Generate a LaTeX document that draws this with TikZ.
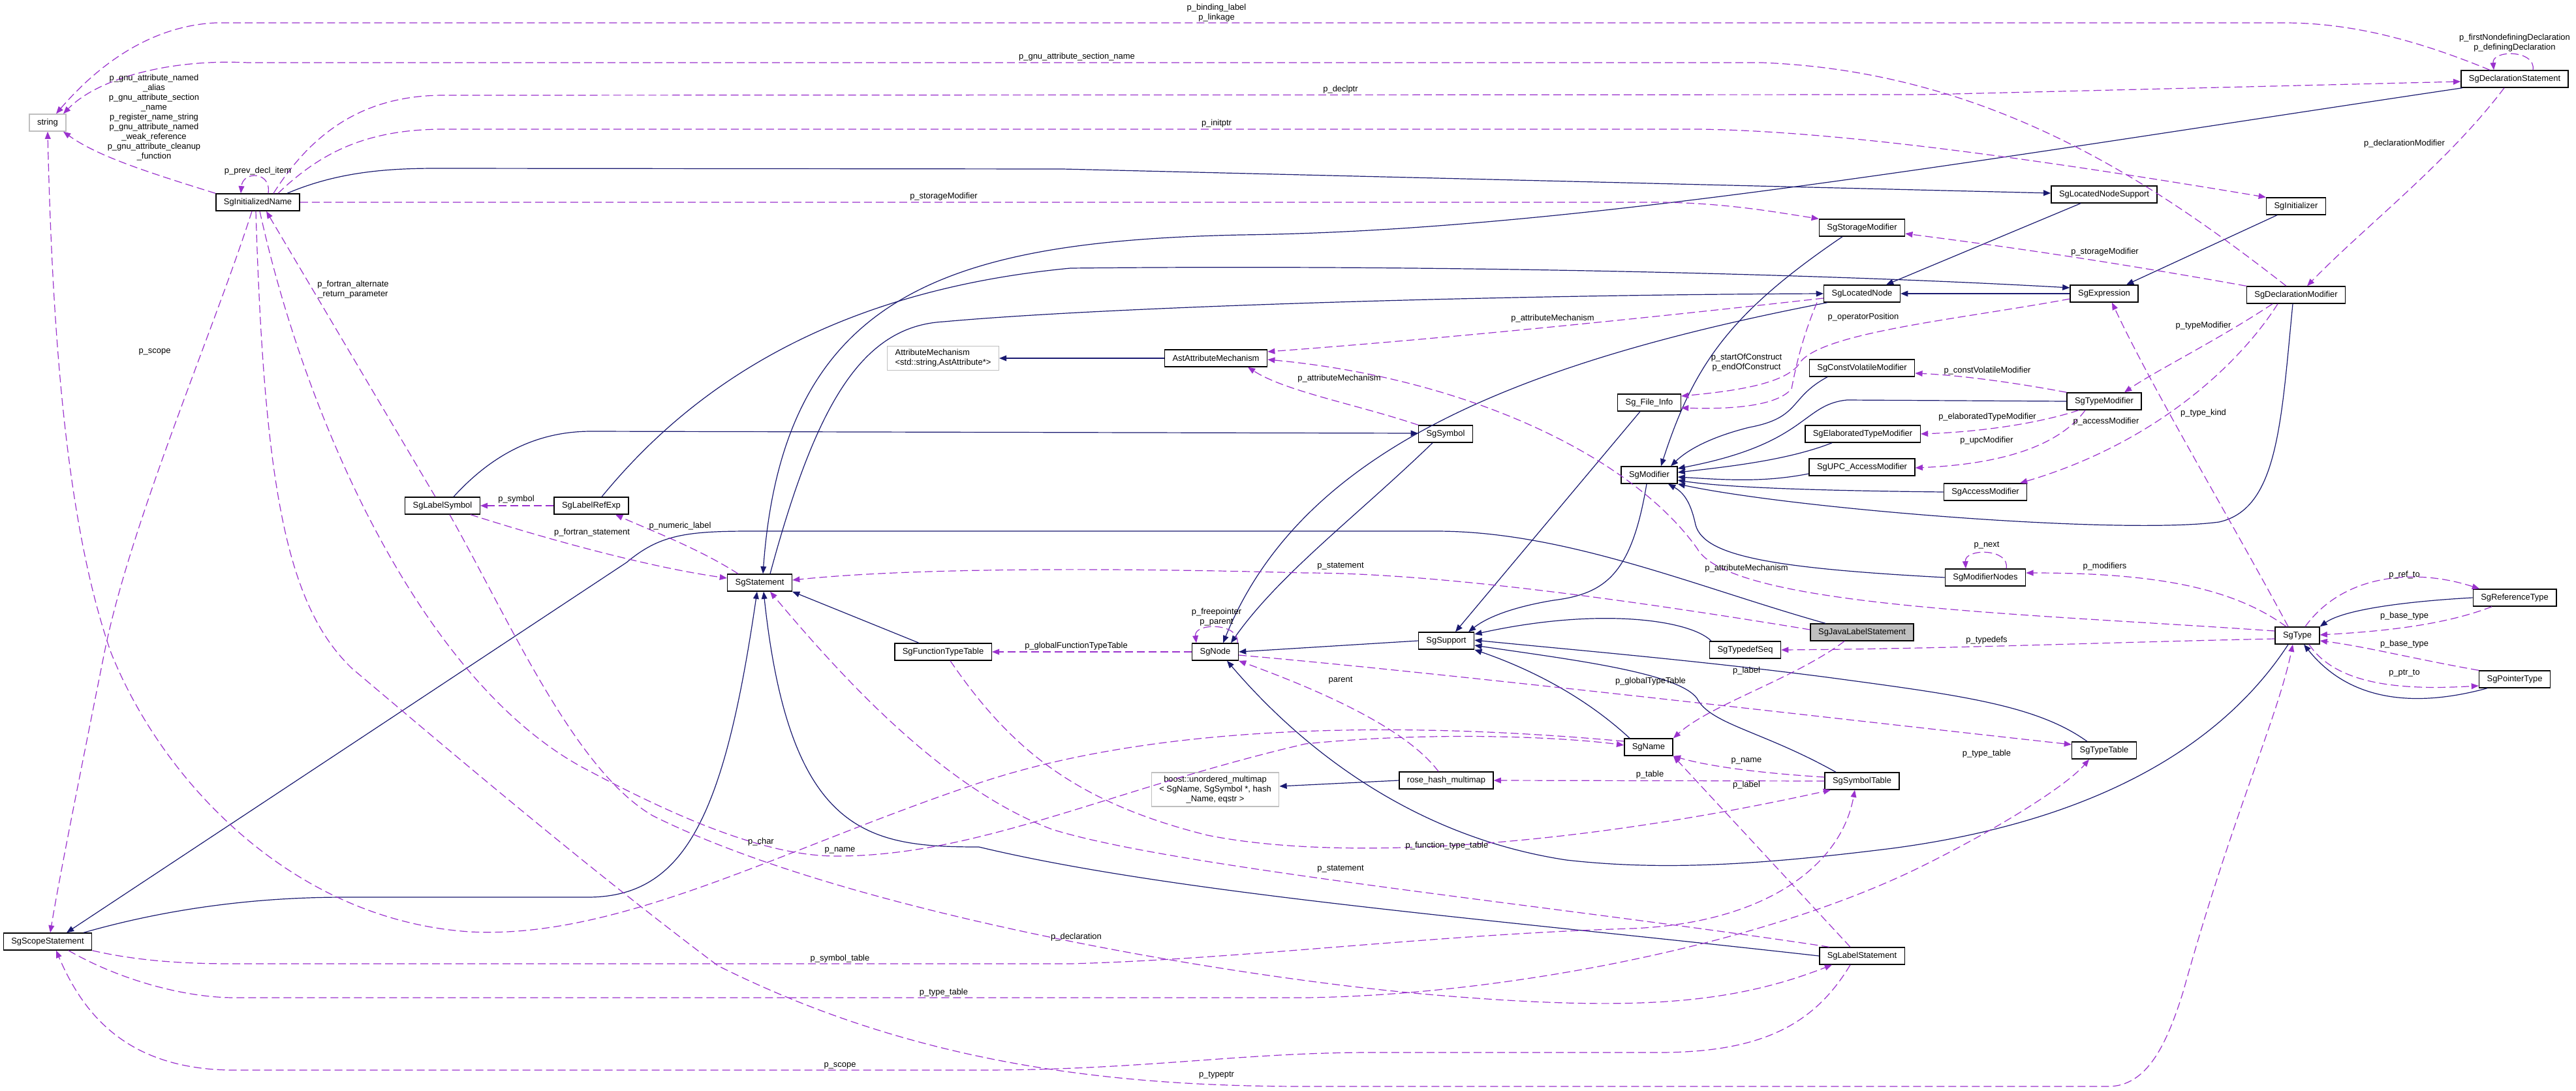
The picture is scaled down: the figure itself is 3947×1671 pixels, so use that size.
\documentclass[tikz,border=0pt]{standalone}
\usepackage{fontspec}
\setmainfont{Liberation Sans}
\usetikzlibrary{arrows.meta}
\definecolor{navyline}{HTML}{191970}
\definecolor{orchidline}{HTML}{9A32CD}
\definecolor{greyedge}{HTML}{BFBFBF}

\begin{document}
\begin{tikzpicture}[x=0.25mm, y=-0.25mm,
    cls/.style={draw=black, line width=0.35mm, fill=white, inner xsep=3mm, inner ysep=1.2mm, minimum height=6.5mm, font=\fontsize{9.2}{10.7}\selectfont},
    extcls/.style={cls, draw=greyedge},
    rootcls/.style={cls, fill=greyedge},
    lbl/.style={inner sep=0pt, align=center, font=\fontsize{9.2}{10.7}\selectfont},
    inherit/.style={draw=navyline, line width=0.3mm, -{Triangle[length=2.8mm,width=2.2mm]}},
    member/.style={draw=orchidline, line width=0.3mm, dash pattern=on 3mm off 1.5mm, -{Triangle[length=2.8mm,width=2.2mm]}}]
    \path[use as bounding box, fill=white] (0,0) rectangle (3947,1671);

    % --- CLASS BOXES ---
    \node[extcls] (str) at (73,188) {string};
    \node[cls] (ini) at (395,310) {SgInitializedName};
    \node[cls] (decl) at (3853,121) {SgDeclarationStatement};
    \node[cls] (lns) at (3224,298) {SgLocatedNodeSupport};
    \node[cls] (init) at (3518,316) {SgInitializer};
    \node[cls] (expr) at (3224,450) {SgExpression};
    \node[cls] (dmod) at (3518,452) {SgDeclarationModifier};
    \node[cls] (smod) at (2853,349) {SgStorageModifier};
    \node[cls] (lnode) at (2853,450) {SgLocatedNode};
    \node[extcls, align=left] (am) at (1445,549) {AttributeMechanism\\<std::string,AstAttribute*>};
    \node[cls] (aam) at (1863,549) {AstAttributeMechanism};
    \node[cls] (cvm) at (2853,564) {SgConstVolatileModifier};
    \node[cls] (finfo) at (2527,617) {Sg\_File\_Info};
    \node[cls] (tmod) at (3224,615) {SgTypeModifier};
    \node[cls] (sym) at (2215,665) {SgSymbol};
    \node[cls] (etm) at (2854,665) {SgElaboratedTypeModifier};
    \node[cls] (mod) at (2527,728) {SgModifier};
    \node[cls] (upc) at (2853,716) {SgUPC\_AccessModifier};
    \node[cls] (amod) at (3042,754) {SgAccessModifier};
    \node[cls] (lsym) at (678,775) {SgLabelSymbol};
    \node[cls] (lref) at (906,775) {SgLabelRefExp};
    \node[cls] (mnodes) at (3042,885) {SgModifierNodes};
    \node[cls] (stmt) at (1164,893) {SgStatement};
    \node[cls] (sgnode) at (1862,999) {SgNode};
    \node[cls] (ftt) at (1445,999) {SgFunctionTypeTable};
    \node[cls] (supp) at (2216,982) {SgSupport};
    \node[rootcls] (jls) at (2853,969) {SgJavaLabelStatement};
    \node[cls] (tds) at (2674,996) {SgTypedefSeq};
    \node[cls] (sgtype) at (3520,974) {SgType};
    \node[cls] (rtype) at (3853,916) {SgReferenceType};
    \node[cls] (ptype) at (3853,1041) {SgPointerType};
    \node[cls] (sgname) at (2526,1145) {SgName};
    \node[cls] (ttab) at (3224,1150) {SgTypeTable};
    \node[extcls, align=center] (boost) at (1862,1210) {boost::unordered\_multimap\\< SgName, SgSymbol *, hash\\\_Name, eqstr >};
    \node[cls] (rose) at (2216,1196) {rose\_hash\_multimap};
    \node[cls] (stab) at (2853,1197) {SgSymbolTable};
    \node[cls] (scope) at (73,1443) {SgScopeStatement};
    \node[cls] (lstmt) at (2853,1465) {SgLabelStatement};

    % --- INHERITANCE (SOLID) ---
    \draw[inherit] (ini.north -| 440,0) .. controls (520,262) and (600,258) .. (670,258) -- (1628,259) -- (lns.west |- 0,296);
    \draw[inherit] (lns.south -| 3188,0) -- (lnode.north -| 2890,0);
    \draw[inherit] (init.south -| 3489,0) -- (expr.north -| 3258,0);
    \draw[inherit] (expr.west) -- (lnode.east);
    \draw[inherit] (decl.south -| 3773,0) .. controls (3000,250) and (2400,354) .. (1900,360) .. controls (1450,370) and (1200,450) .. (stmt.north -| 1169,0);
    \draw[inherit] (stmt.north -| 1180,0) .. controls (1250,620) and (1320,500) .. (1446,493) .. controls (1700,470) and (2300,452) .. (lnode.west);
    \draw[inherit] (lsym.north -| 695,0) .. controls (760,690) and (830,661) .. (906,661) -- (sym.west |- 0,664);
    \draw[inherit] (lref.north -| 922,0) .. controls (1030,630) and (1230,450) .. (1640,411) .. controls (2200,405) and (2800,420) .. (expr.west |- 0,441);
    \draw[inherit] (ftt.north -| 1408,0) -- (stmt.south east);
    \draw[inherit] (scope.north -| 128,0) .. controls (300,1380) and (450,1375) .. (530,1375) -- (900,1375) .. controls (1050,1375) and (1110,1250) .. (stmt.south -| 1160,0);
    \draw[inherit] (lstmt.west) .. controls (2300,1410) and (1800,1370) .. (1500,1298) .. controls (1330,1298) and (1210,1280) .. (stmt.south -| 1170,0);
    \draw[inherit] (jls.north -| 2797,0) .. controls (2600,900) and (2400,814) .. (2200,814) -- (1150,814) .. controls (1050,814) and (1010,820) .. (960,862) -- (scope.north -| 102,0);
    \draw[inherit] (smod.south -| 2823,0) .. controls (2650,480) and (2595,560) .. (mod.north -| 2545,0);
    \draw[inherit] (cvm.south -| 2800,0) .. controls (2740,610) and (2760,640) .. (2680,655) .. controls (2620,670) and (2585,690) .. (mod.north -| 2560,0);
    \draw[inherit] (tmod.west) -- (2830,613) .. controls (2760,620) and (2770,680) .. (mod.east |- 0,718);
    \draw[inherit] (etm.south -| 2807,0) .. controls (2740,705) and (2650,715) .. (mod.east |- 0,724);
    \draw[inherit] (upc.west |- 0,726) .. controls (2700,740) and (2640,735) .. (mod.east |- 0,731);
    \draw[inherit] (amod.west) .. controls (2800,752) and (2650,748) .. (mod.east |- 0,736);
    \draw[inherit] (dmod.south -| 3513,0) .. controls (3495,650) and (3490,780) .. (3400,800) .. controls (3250,820) and (2750,780) .. (mod.south east);
    \draw[inherit] (mnodes.west) .. controls (2700,870) and (2605,850) .. (2597,800) .. controls (2590,770) and (2580,755) .. (mod.south -| 2556,0);
    \draw[inherit] (mod.south -| 2523,0) .. controls (2500,880) and (2460,910) .. (2380,920) .. controls (2320,930) and (2280,945) .. (supp.north -| 2250,0);
    \draw[inherit] (finfo.south -| 2513,0) -- (supp.north -| 2230,0);
    \draw[inherit] (tds.north -| 2622,0) .. controls (2590,950) and (2450,930) .. (supp.east |- 0,972);
    \draw[inherit] (sgname.north -| 2497,0) .. controls (2420,1060) and (2330,1020) .. (supp.south east);
    \draw[inherit] (stab.north -| 2813,0) .. controls (2700,1120) and (2620,1110) .. (2600,1070) .. controls (2570,1030) and (2400,1010) .. (supp.east |- 0,989);
    \draw[inherit] (ttab.north -| 3198,0) .. controls (3120,1080) and (3000,1065) .. (2800,1038) .. controls (2600,1012) and (2400,995) .. (supp.east |- 0,981);
    \draw[inherit] (supp.west) -- (sgnode.east);
    \draw[inherit] (sym.south -| 2195,0) .. controls (2080,790) and (1960,880) .. (sgnode.north -| 1886,0);
    \draw[inherit] (lnode.south -| 2800,0) .. controls (2300,560) and (1990,700) .. (sgnode.north -| 1874,0);
    \draw[inherit] (sgtype.south -| 3506,0) .. controls (3400,1150) and (3200,1260) .. (2900,1300) .. controls (2700,1325) and (2550,1335) .. (2400,1318) .. controls (2150,1280) and (1980,1130) .. (sgnode.south -| 1880,0);
    \draw[inherit] (rose.west) -- (boost.east |- 0,1205);
    \draw[inherit] (aam.west) -- (am.east);
    \draw[inherit] (rtype.west) .. controls (3680,922) and (3590,935) .. (sgtype.north east);
    \draw[inherit] (ptype.south -| 3811,0) .. controls (3700,1085) and (3600,1075) .. (sgtype.south -| 3530,0);

    % --- MEMBERS (DASHED) ---
    \draw[member] (decl.north -| 3815,0) .. controls (3700,60) and (3600,35) .. (3500,35) -- (330,35) .. controls (230,40) and (150,100) .. (str.north -| 86,0);
    \draw[member] (dmod.north -| 3503,0) .. controls (3300,280) and (3050,110) .. (2700,96) -- (380,96) .. controls (260,90) and (150,120) .. (str.north -| 97,0);
    \draw[member] (ini.north west) .. controls (230,265) and (150,240) .. (str.south -| 97,0);
    \draw[member] (ini.north -| 411,0) .. controls (416,262) and (372,262) .. (ini.north -| 369,0);
    \draw[member] (ini.north -| 419,0) .. controls (480,200) and (560,146) .. (680,146) -- (2950,145) -- (decl.west |- 0,125);
    \draw[member] (ini.north -| 426,0) .. controls (490,235) and (560,198) .. (680,198) -- (2600,198) .. controls (2800,200) and (3100,240) .. (init.north west);
    \draw[member] (ini.east) -- (2550,310) .. controls (2650,312) and (2720,325) .. (smod.north west);
    \draw[member] (dmod.north west) .. controls (3200,395) and (3050,375) .. (smod.east |- 0,358);
    \draw[member] (decl.south -| 3837,0) .. controls (3750,250) and (3620,350) .. (dmod.north -| 3535,0);
    \draw[member] (decl.north -| 3881,0) .. controls (3886,76) and (3818,76) .. (decl.north -| 3821,0);
    \draw[member] (lnode.west |- 0,457) .. controls (2500,490) and (2200,520) .. (aam.east |- 0,539);
    \draw[member] (sym.north west) .. controls (2080,620) and (1970,600) .. (aam.south -| 1912,0);
    \draw[member] (sgtype.west |- 0,967) .. controls (3100,940) and (2650,930) .. (2600,840) .. controls (2500,700) and (2250,580) .. (aam.east |- 0,551);
    \draw[member] (tmod.north west) .. controls (3080,585) and (3000,575) .. (cvm.east |- 0,572);
    \draw[member] (tmod.south -| 3185,0) .. controls (3120,650) and (3030,662) .. (etm.east |- 0,665);
    \draw[member] (tmod.south -| 3195,0) .. controls (3150,690) and (3050,712) .. (upc.east |- 0,717);
    \draw[member] (dmod.south -| 3490,0) .. controls (3430,560) and (3300,680) .. (amod.north -| 3095,0);
    \draw[member] (dmod.south -| 3482,0) .. controls (3400,520) and (3300,570) .. (tmod.north -| 3255,0);
    \draw[member] (sgtype.north -| 3506,0) .. controls (3420,800) and (3300,600) .. (expr.south -| 3236,0);
    \draw[member] (expr.west |- 0,458) .. controls (3000,490) and (2780,510) .. (2755,560) .. controls (2730,590) and (2650,600) .. (finfo.east |- 0,607);
    \draw[member] (lnode.south -| 2784,0) .. controls (2760,520) and (2750,570) .. (2745,596) .. controls (2720,625) and (2640,627) .. (finfo.east |- 0,625);
    \draw[member] (lref.west) -- (lsym.east);
    \draw[member] (lsym.south -| 721,0) .. controls (850,830) and (1000,870) .. (stmt.west |- 0,886);
    \draw[member] (stmt.north -| 1131,0) .. controls (1070,840) and (990,810) .. (lref.south -| 943,0);
    \draw[member] (lsym.north -| 667,0) -- (ini.south -| 408,0);
    \draw[member] (ini.south -| 386,0) .. controls (330,500) and (200,800) .. (160,1000) .. controls (120,1200) and (90,1350) .. (scope.north -| 77,0);
    \draw[member] (ini.south -| 398,0) .. controls (470,650) and (650,1050) .. (900,1180) .. controls (1050,1260) and (1180,1312) .. (1281,1312) .. controls (1500,1312) and (1700,1210) .. (2000,1140) .. controls (2200,1120) and (2400,1130) .. (sgname.west |- 0,1142);
    \draw[member] (lsym.south -| 689,0) .. controls (780,950) and (880,1180) .. (1000,1250) .. controls (1300,1400) and (1900,1500) .. (2200,1525) .. controls (2500,1550) and (2650,1540) .. (lstmt.south -| 2807,0);
    \draw[member] (ini.south -| 392,0) .. controls (405,750) and (440,930) .. (540,1025) .. controls (700,1160) and (900,1330) .. (1100,1480) .. controls (1400,1630) and (1700,1665) .. (2000,1665) -- (3230,1665) .. controls (3290,1665) and (3320,1600) .. (3345,1520) .. controls (3420,1250) and (3490,1100) .. (sgtype.south -| 3513,0);
    \draw[member] (sgname.west |- 0,1136) .. controls (2200,1110) and (1800,1100) .. (1500,1200) .. controls (1200,1300) and (950,1440) .. (720,1428) .. controls (450,1410) and (250,1200) .. (170,1000) .. controls (100,800) and (80,500) .. (str.south);
    \draw[member] (lstmt.south -| 2835,0) .. controls (2780,1570) and (2700,1613) .. (2540,1613) -- (2100,1613) .. controls (1900,1613) and (1750,1640) .. (1500,1640) -- (360,1640) .. controls (200,1640) and (130,1560) .. (scope.south -| 86,0);
    \draw[member] (scope.south east) .. controls (220,1475) and (300,1477) .. (360,1477) -- (1640,1477) .. controls (1900,1470) and (2200,1432) .. (2500,1423) .. controls (2700,1415) and (2820,1330) .. (stab.south -| 2842,0);
    \draw[member] (scope.south -| 105,0) .. controls (180,1500) and (280,1529) .. (360,1529) -- (2000,1529) .. controls (2300,1525) and (2700,1450) .. (2950,1325) .. controls (3080,1260) and (3170,1200) .. (ttab.south -| 3201,0);
    \draw[member] (lstmt.north -| 2803,0) .. controls (2400,1390) and (1800,1330) .. (1612,1271) .. controls (1450,1210) and (1300,1050) .. (stmt.south -| 1180,0);
    \draw[member] (ftt.south -| 1456,0) .. controls (1550,1150) and (1650,1230) .. (1850,1280) .. controls (2050,1320) and (2400,1300) .. (stab.south -| 2805,0);
    \draw[member] (jls.west |- 0,965) .. controls (2500,920) and (2200,878) .. (2000,878) .. controls (1700,870) and (1400,870) .. (stmt.east |- 0,889);
    \draw[member] (jls.south -| 2826,0) .. controls (2750,1040) and (2620,1080) .. (sgname.north east);
    \draw[member] (lstmt.north -| 2835,0) -- (sgname.south east);
    \draw[member] (stab.west |- 0,1191) .. controls (2700,1185) and (2620,1175) .. (sgname.south east);
    \draw[member] (stab.west) -- (rose.east);
    \draw[member] (sgnode.east |- 0,1004) .. controls (2200,1030) and (2800,1100) .. (ttab.west |- 0,1141);
    \draw[member] (rose.north -| 2204,0) .. controls (2150,1110) and (2000,1050) .. (sgnode.south east);
    \draw[member] (sgnode.west) -- (ftt.east);
    \draw[member] (sgnode.north -| 1896,0) .. controls (1900,954) and (1829,954) .. (sgnode.north -| 1833,0);
    \draw[member] (mnodes.north -| 3074,0) .. controls (3080,840) and (3010,840) .. (mnodes.north -| 3012,0);
    \draw[member] (sgtype.north -| 3503,0) .. controls (3420,900) and (3300,878) .. (mnodes.east |- 0,878);
    \draw[member] (sgtype.west |- 0,979) .. controls (3200,985) and (3000,994) .. (tds.east |- 0,996);
    \draw[member] (sgtype.north -| 3532,0) .. controls (3590,880) and (3700,870) .. (rtype.north -| 3799,0);
    \draw[member] (rtype.south -| 3818,0) .. controls (3740,960) and (3640,968) .. (sgtype.east |- 0,973);
    \draw[member] (ptype.north west) .. controls (3700,1010) and (3620,990) .. (sgtype.east |- 0,982);
    \draw[member] (sgtype.south -| 3538,0) .. controls (3580,1050) and (3680,1058) .. (ptype.west |- 0,1051);

    % --- EDGE LABELS ---
    \node[lbl] (lb1) at (1864,20) {p\_binding\_label\\p\_linkage};
    \node[lbl] (lb2) at (1650,87) {p\_gnu\_attribute\_section\_name};
    \node[lbl] (lb3) at (236,180) {p\_gnu\_attribute\_named\\\_alias\\p\_gnu\_attribute\_section\\\_name\\p\_register\_name\_string\\p\_gnu\_attribute\_named\\\_weak\_reference\\p\_gnu\_attribute\_cleanup\\\_function};
    \node[lbl] (lb4) at (395,262) {p\_prev\_decl\_item};
    \node[lbl] (lb5) at (2054,137) {p\_declptr};
    \node[lbl] (lb6) at (1864,189) {p\_initptr};
    \node[lbl] (lb7) at (1446,301) {p\_storageModifier};
    \node[lbl] (lb8) at (3853,66) {p\_firstNondefiningDeclaration\\p\_definingDeclaration};
    \node[lbl] (lb9) at (3684,220) {p\_declarationModifier};
    \node[lbl] (lb10) at (3225,386) {p\_storageModifier};
    \node[lbl] (lb11) at (3376,499) {p\_typeModifier};
    \node[lbl] (lb12) at (2379,488) {p\_attributeMechanism};
    \node[lbl] (lb13) at (2855,486) {p\_operatorPosition};
    \node[lbl] (lb14) at (2676,556) {p\_startOfConstruct\\p\_endOfConstruct};
    \node[lbl] (lb15) at (2052,580) {p\_attributeMechanism};
    \node[lbl] (lb16) at (3045,568) {p\_constVolatileModifier};
    \node[lbl] (lb17) at (3045,639) {p\_elaboratedTypeModifier};
    \node[lbl] (lb18) at (3227,646) {p\_accessModifier};
    \node[lbl] (lb19) at (3376,633) {p\_type\_kind};
    \node[lbl] (lb20) at (3044,675) {p\_upcModifier};
    \node[lbl] (lb21) at (791,765) {p\_symbol};
    \node[lbl] (lb22) at (907,816) {p\_fortran\_statement};
    \node[lbl] (lb23) at (1042,806) {p\_numeric\_label};
    \node[lbl] (lb24) at (3044,836) {p\_next};
    \node[lbl] (lb25) at (3225,868) {p\_modifiers};
    \node[lbl] (lb26) at (2676,871) {p\_attributeMechanism};
    \node[lbl] (lb27) at (2054,868) {p\_statement};
    \node[lbl] (lb28) at (3684,881) {p\_ref\_to};
    \node[lbl] (lb29) at (1864,946) {p\_freepointer\\p\_parent};
    \node[lbl] (lb30) at (3684,944) {p\_base\_type};
    \node[lbl] (lb31) at (3044,981) {p\_typedefs};
    \node[lbl] (lb32) at (3684,987) {p\_base\_type};
    \node[lbl] (lb33) at (1649,990) {p\_globalFunctionTypeTable};
    \node[lbl] (lb34) at (2676,1028) {p\_label};
    \node[lbl] (lb35) at (3684,1032) {p\_ptr\_to};
    \node[lbl] (lb36) at (2054,1043) {parent};
    \node[lbl] (lb37) at (2529,1044) {p\_globalTypeTable};
    \node[lbl] (lb38) at (3044,1155) {p\_type\_table};
    \node[lbl] (lb39) at (2676,1166) {p\_name};
    \node[lbl] (lb40) at (2528,1187) {p\_table};
    \node[lbl] (lb41) at (2676,1203) {p\_label};
    \node[lbl] (lb42) at (1166,1290) {p\_char};
    \node[lbl] (lb43) at (1287,1303) {p\_name};
    \node[lbl] (lb44) at (2217,1296) {p\_function\_type\_table};
    \node[lbl] (lb45) at (2054,1332) {p\_statement};
    \node[lbl] (lb46) at (1649,1436) {p\_declaration};
    \node[lbl] (lb47) at (1287,1469) {p\_symbol\_table};
    \node[lbl] (lb48) at (1446,1521) {p\_type\_table};
    \node[lbl] (lb49) at (1287,1633) {p\_scope};
    \node[lbl] (lb50) at (1864,1648) {p\_typeptr};
    \node[lbl] (lb51) at (237,539) {p\_scope};
    \node[lbl] (lb52) at (541,444) {p\_fortran\_alternate\\\_return\_parameter};
\end{tikzpicture}
\end{document}
